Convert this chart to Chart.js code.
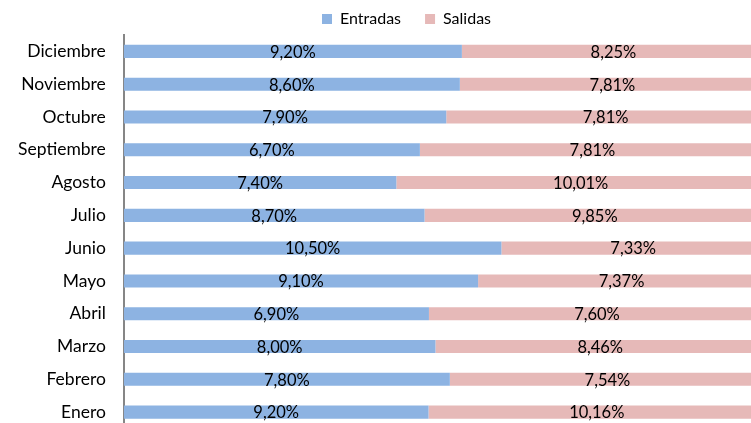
<!DOCTYPE html>
<html>
<head>
<meta charset="utf-8">
<script src="https://cdn.jsdelivr.net/npm/chart.js@4"></script>
<style>
  html, body { margin: 0; padding: 0; overflow: hidden; background: #fff; }
  canvas { display: block; }
</style>
</head>
<body>
<canvas id="flowChart" width="820" height="457"></canvas>
<script>
const months = ["Diciembre", "Noviembre", "Octubre", "Septiembre", "Agosto", "Julio",
  "Junio", "Mayo", "Abril", "Marzo", "Febrero", "Enero"];
const entradas = [9.20, 8.60, 7.90, 6.70, 7.40, 8.70, 10.50, 9.10, 6.90, 8.00, 7.80, 9.20];
const salidas = [8.25, 7.81, 7.81, 7.81, 10.01, 9.85, 7.33, 7.37, 7.60, 8.46, 7.54, 10.16];

// 100% stacked: each bar is share of the month's total
const share = (a, b) => a.map((v, i) => v / (v + b[i]) * 100);

const fmt = v => v.toFixed(2).replace(".", ",") + "%";

const labelPlugin = {
  id: "segLabels",
  afterLayout(chart) {
    // nudge legend like the original
    chart.legend.left += 24;
    chart.legend.right += 24;
    chart.legend.top += 2;
    chart.legend.bottom += 2;
  },
  afterDatasetsDraw(chart) {
    const ctx = chart.ctx;
    const raw = [entradas, salidas];
    ctx.save();
    ctx.font = "16.5px Lato";
    ctx.fillStyle = "#000";
    ctx.textAlign = "center";
    ctx.textBaseline = "middle";
    chart.data.datasets.forEach((ds, di) => {
      chart.getDatasetMeta(di).data.forEach((bar, i) => {
        const left = Math.min(bar.x, bar.base);
        const right = Math.max(bar.x, bar.base);
        ctx.fillText(fmt(raw[di][i]), (left + right) / 2, bar.y + 1);
      });
    });
    ctx.restore();
  }
};

new Chart(document.getElementById("flowChart"), {
  type: "bar",
  data: {
    labels: months,
    datasets: [{
      label: "Entradas",
      data: share(entradas, salidas),
      backgroundColor: "#8DB3E2",
      barPercentage: 0.4,
      categoryPercentage: 1
    }, {
      label: "Salidas",
      data: share(salidas, entradas),
      backgroundColor: "#E6B9B8",
      barPercentage: 0.4,
      categoryPercentage: 1
    }]
  },
  options: {
    indexAxis: "y",
    responsive: false,
    animation: false,
    layout: { padding: { left: 0, right: 55, top: -15, bottom: 12 } },
    plugins: {
      legend: {
        position: "top",
        labels: {
          font: { family: "Lato", size: 16 },
          color: "#000",
          boxWidth: 10,
          boxHeight: 10,
          padding: 24
        }
      },
      tooltip: { enabled: false }
    },
    scales: {
      x: {
        stacked: true,
        min: 0,
        max: 100,
        display: false
      },
      y: {
        stacked: true,
        grid: { display: false, drawTicks: false },
        border: { color: "#868686", width: 2 },
        ticks: {
          font: { family: "Lato", size: 17.5 },
          color: "#000",
          padding: 18
        }
      }
    }
  },
  plugins: [labelPlugin]
});
</script>
</body>
</html>
